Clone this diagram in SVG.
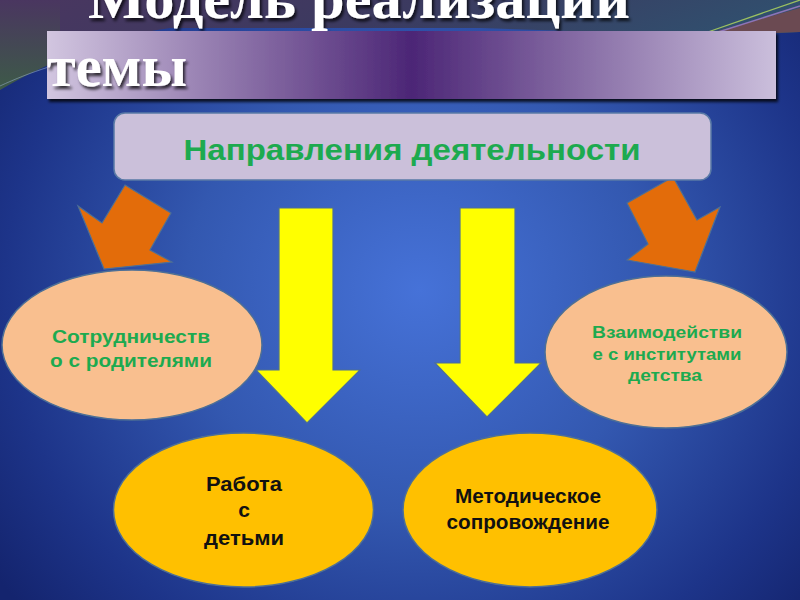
<svg xmlns="http://www.w3.org/2000/svg" width="800" height="600" viewBox="0 0 800 600">
<defs>
<style>
.title{font-family:"Liberation Serif","Times New Roman",serif;font-weight:bold;font-size:60px;fill:#ffffff;filter:url(#tshadow)}
.peach{fill:#f9bf8f;stroke:#4d6f96;stroke-width:1.5}
.gold{fill:#ffc000;stroke:#4d6f96;stroke-width:1.5}
.orange{fill:#e36c0a;stroke:#4d6f96;stroke-width:1.2}
.yellow{fill:#ffff00;stroke:#4d6f96;stroke-width:1.2}
.green{font-family:"Liberation Sans",Arial,sans-serif;font-weight:bold;fill:#1daa4f;text-anchor:middle}
.black{font-family:"Liberation Sans",Arial,sans-serif;font-weight:bold;fill:#111111;text-anchor:middle;font-size:21px}
</style>
<radialGradient id="bg" cx="420" cy="290" r="520" gradientUnits="userSpaceOnUse" gradientTransform="translate(420 290) scale(1 0.95) translate(-420 -290)">
<stop offset="0" stop-color="#4672d8"/>
<stop offset="0.45" stop-color="#3358b0"/>
<stop offset="0.8" stop-color="#1d3489"/>
<stop offset="1" stop-color="#14246e"/>
</radialGradient>
<linearGradient id="topbg" x1="0" y1="0" x2="1" y2="0.3">
<stop offset="0" stop-color="#4a3660"/>
<stop offset="0.5" stop-color="#3b3a60"/>
<stop offset="1" stop-color="#2f5270"/>
</linearGradient>
<linearGradient id="topleft" x1="0" y1="0" x2="0" y2="1">
<stop offset="0" stop-color="#4a3660"/>
<stop offset="1" stop-color="#3d5a48"/>
</linearGradient>
<linearGradient id="banner" x1="47" y1="0" x2="776" y2="0" gradientUnits="userSpaceOnUse">
<stop offset="0" stop-color="#d2c6e0"/>
<stop offset="0.5" stop-color="#4c2676"/>
<stop offset="1" stop-color="#cbbfdc"/>
</linearGradient>
<filter id="tshadow" x="-10%" y="-30%" width="120%" height="160%">
<feDropShadow dx="2" dy="3" stdDeviation="1.5" flood-color="#000000" flood-opacity="0.75"/>
</filter>
<filter id="bshadow" x="-5%" y="-20%" width="110%" height="150%">
<feDropShadow dx="2" dy="3" stdDeviation="1.5" flood-color="#000000" flood-opacity="0.8"/>
</filter>
</defs>

<!-- background -->
<rect x="0" y="0" width="800" height="600" fill="url(#bg)"/>
<path d="M0,0 L800,0 L800,32 L720,36 L480,28 L170,28 C100,38 40,62 0,90 Z" fill="url(#topbg)"/>
<path d="M0,0 L60,0 L60,60 C40,68 20,78 0,90 Z" fill="url(#topleft)"/>
<path d="M700,36 L800,8 L800,32 Z" fill="#6b4a52"/>
<path d="M705,33 L800,0" stroke="#9bc060" stroke-width="1.2" fill="none"/>
<path d="M712,34 L800,6" stroke="#8d74b8" stroke-width="1.5" fill="none"/>
<path d="M0,86 C30,72 60,62 120,48" stroke="#8fa8c0" stroke-width="1" fill="none" opacity="0.6"/>

<!-- title -->
<g id="title">
<text class="title" x="88" y="18" textLength="542" lengthAdjust="spacingAndGlyphs">Модель реализации</text>
<rect x="47" y="31" width="729" height="68" fill="url(#banner)" filter="url(#bshadow)"/>
<text class="title" x="47" y="86" textLength="140" lengthAdjust="spacingAndGlyphs">темы</text>
</g>

<!-- connectors -->
<g id="connectors">
<polygon class="orange" points="125,185 171,213 150,250 172,262 104,269 78,206 102,223"/>
<polygon class="orange" points="673,177 697,220 720,207 695,272 627,260 648,244 627,203"/>
<polygon class="yellow" points="279,208 333,208 333,370 360,370 307,423 256,370 279,370"/>
<polygon class="yellow" points="460,208 515,208 515,363 541,363 487,417 435,363 460,363"/>
</g>

<!-- nodes -->
<g id="node-directions">
<rect x="114" y="113" width="597" height="67" rx="11" ry="11" fill="#cbc0da" stroke="#5a7aa6" stroke-width="1.5"/>
<text class="green" x="412" y="160" font-size="30" textLength="457" lengthAdjust="spacingAndGlyphs">Направления деятельности</text>
</g>

<g id="node-parents">
<ellipse class="peach" cx="132" cy="345" rx="130" ry="75"/>
<text class="green" x="131" y="343" font-size="19" textLength="158" lengthAdjust="spacingAndGlyphs">Сотрудничеств</text>
<text class="green" x="131" y="367" font-size="19" textLength="162" lengthAdjust="spacingAndGlyphs">о с родителями</text>
</g>

<g id="node-institutes">
<ellipse class="peach" cx="666" cy="352" rx="121" ry="76"/>
<text class="green" x="667" y="338" font-size="17" textLength="150" lengthAdjust="spacingAndGlyphs">Взаимодействи</text>
<text class="green" x="667" y="360" font-size="17" textLength="149" lengthAdjust="spacingAndGlyphs">е с институтами</text>
<text class="green" x="665" y="381" font-size="17" textLength="74" lengthAdjust="spacingAndGlyphs">детства</text>
</g>

<g id="node-children">
<ellipse class="gold" cx="243.5" cy="510" rx="130" ry="77"/>
<text class="black" x="244" y="491" textLength="76" lengthAdjust="spacingAndGlyphs">Работа</text>
<text class="black" x="244" y="517">с</text>
<text class="black" x="244" y="545" textLength="80" lengthAdjust="spacingAndGlyphs">детьми</text>
</g>

<g id="node-methodical">
<ellipse class="gold" cx="530" cy="510" rx="127" ry="77"/>
<text class="black" x="528" y="503" textLength="146" lengthAdjust="spacingAndGlyphs">Методическое</text>
<text class="black" x="528" y="529" textLength="163" lengthAdjust="spacingAndGlyphs">сопровождение</text>
</g>
</svg>
